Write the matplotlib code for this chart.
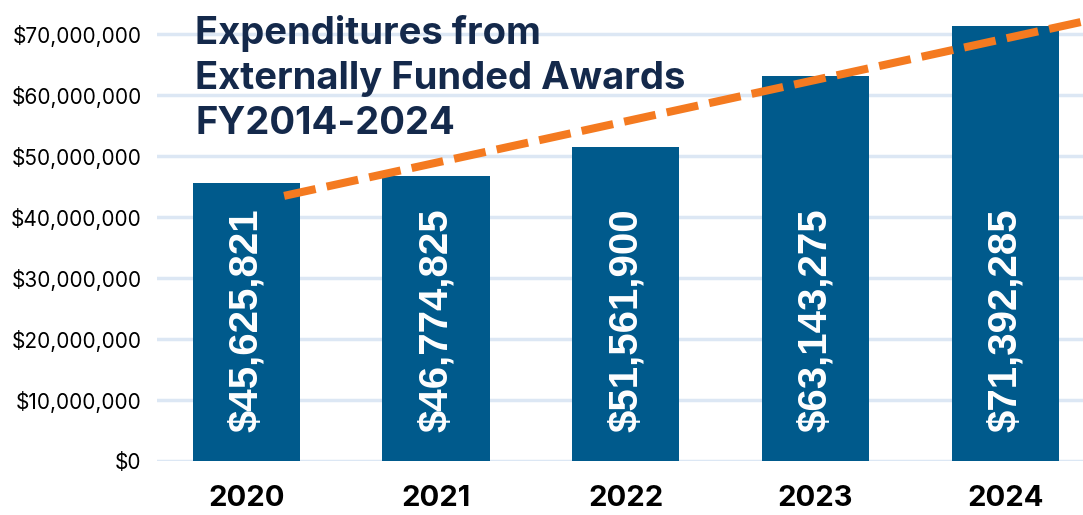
import matplotlib.pyplot as plt
import numpy as np

years = ['2020', '2021', '2022', '2023', '2024']
expenditures = [45625821, 46774825, 51561900, 63143275, 71392285]
bar_labels = ['$45,625,821', '$46,774,825', '$51,561,900', '$63,143,275', '$71,392,285']
yticks = [0, 10e6, 20e6, 30e6, 40e6, 50e6, 60e6, 70e6]
title = 'Expenditures from\nExternally Funded Awards\nFY2014-2024'

bar_color = '#005A8C'
trend_color = '#F47A20'
grid_color = '#DCE7F4'
title_color = '#14294B'

fig = plt.figure(figsize=(10.83, 5.15), dpi=100)
ax = fig.add_axes([157 / 1083, 54 / 515, 926 / 1083, 461 / 515])

x = np.arange(len(years))
ax.bar(x, expenditures, width=0.565, color=bar_color, zorder=2)

# trend line (linear fit of the bars)
k, b = np.polyfit(x, expenditures, 1)
tx = np.array([0.2, 4.6])
ax.plot(tx, k * tx + b, color=trend_color, lw=5.8, dashes=(4, 1.4),
        solid_capstyle='butt', dash_capstyle='butt', zorder=3)

for xi, lab in zip(x, bar_labels):
    ax.annotate(lab, (xi, 0), xytext=(0, 21), textcoords='offset points',
                rotation=90, ha='center', va='bottom', color='white',
                fontsize=29, fontweight='bold', family='Liberation Sans', zorder=4)

ax.set_xlim(-0.47, 4.41)
ax.set_ylim(0, 75.6e6)
ax.set_yticks(yticks)
ax.set_yticklabels(['${:,.0f}'.format(v) for v in yticks], fontsize=15, family='Inter')
ax.set_xticks(x)
ax.set_xticklabels(years, fontsize=21, fontweight='bold', family='Inter')
ax.tick_params(axis='both', length=0)
ax.tick_params(axis='y', pad=11)
ax.tick_params(axis='x', pad=17)
ax.grid(axis='y', color=grid_color, lw=2.5, zorder=0)
for s in ax.spines.values():
    s.set_visible(False)

fig.text(195 / 1083, 1 - 15 / 515, title, ha='left', va='top', fontsize=27.5,
         fontweight='bold', color=title_color, family='Inter', linespacing=1.33)

fig.savefig('out.png', dpi=100)
